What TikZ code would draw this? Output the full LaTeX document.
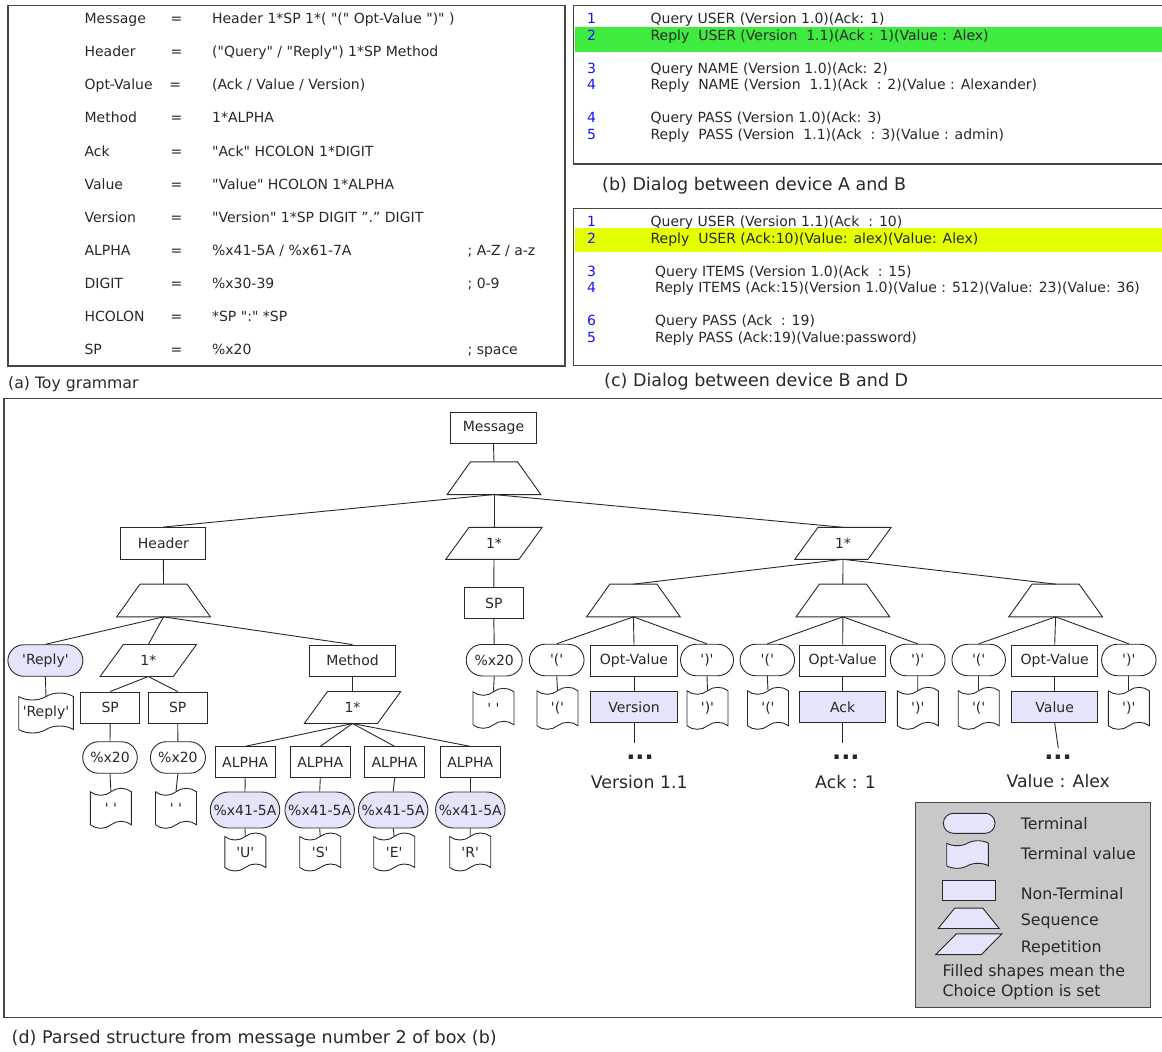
\documentclass[tikz,border=0pt]{standalone}
\usepackage{fontspec}
\setmainfont{DejaVu Sans}
\usetikzlibrary{shapes.geometric,shapes.misc,shapes.symbols}
\definecolor{lav}{RGB}{228,228,250}
\definecolor{lgray}{RGB}{200,200,200}
\definecolor{lgreen}{RGB}{64,235,64}
\definecolor{lyellow}{RGB}{228,255,0}
\definecolor{numblue}{RGB}{20,20,255}
\definecolor{ink}{RGB}{40,40,40}
\definecolor{framec}{RGB}{70,70,70}
\newcommand{\myq}{\textquotesingle}
\newcommand{\dq}{\textquotedbl}
% sequence (trapezium) drawn on an invisible node: #2 node name, #3 slant
\newcommand{\mkseq}[3][]{\draw[draw=ink, line width=0.9pt, #1] ([xshift=#3]#2.north west) -- ([xshift=-#3]#2.north east) -- (#2.south east) -- (#2.south west) -- cycle;}
% repetition (parallelogram)
\newcommand{\mkrep}[3][]{\draw[draw=ink, line width=0.9pt, #1] ([xshift=#3]#2.north west) -- (#2.north east) -- ([xshift=-#3]#2.south east) -- (#2.south west) -- cycle;}
\tikzset{
  base/.style={draw=ink, line width=0.9pt, text=ink, font=\fontsize{14}{16}\selectfont, inner sep=0pt},
  nt/.style={base, rectangle, minimum height=31pt},
  ntf/.style={nt, fill=lav},
  term/.style={base, rounded rectangle, minimum height=31.5pt},
  termf/.style={term, fill=lav},
  tval/.style={base, tape, minimum width=41pt, minimum height=40pt, tape bend height=7pt},
  seqn/.style={rectangle, inner sep=0pt, minimum width=93.3pt, minimum height=32.3pt},
  repn/.style={rectangle, inner sep=0pt, text=ink, font=\fontsize{14}{16}\selectfont, minimum width=96pt, minimum height=31.6pt},
  conn/.style={draw=ink, line width=0.9pt},
  frame/.style={draw=framec, line width=1.1pt},
  gtxt/.style={anchor=west, inner sep=0pt, text=ink, font=\fontsize{14}{16}\selectfont, text height=10.5pt, text depth=3pt},
  gnum/.style={gtxt, text=numblue},
  gcap/.style={anchor=west, inner sep=0pt, text=ink, font=\fontsize{17.5}{20}\selectfont},
  lbl/.style={inner sep=0pt, text=ink, font=\fontsize{17.3}{20}\selectfont},
  dotsn/.style={inner sep=0pt, text=ink, font=\fontsize{24}{24}\selectfont\bfseries},
  ltxt/.style={anchor=west, inner sep=0pt, text=ink, font=\fontsize{15.8}{18}\selectfont},
}
\begin{document}
\begin{tikzpicture}[x=1pt,y=-1pt]
\useasboundingbox (0,0) rectangle (1162,1052);
% ---------------- (a) grammar
\draw[frame] (8,5.5) rectangle (565,366);
\node[gtxt] (ga1) at (84.4,20) {Message};
\node[gtxt] (ga2) at (84.4,53.2) {Header};
\node[gtxt] (ga3) at (84.4,86.2) {Opt-Value};
\node[gtxt] (ga4) at (84.4,119.2) {Method};
\node[gtxt] (ga5) at (84.4,152.4) {Ack};
\node[gtxt] (ga6) at (84.4,185.5) {Value};
\node[gtxt] (ga7) at (84.4,218.8) {Version};
\node[gtxt] (ga8) at (84.4,252) {ALPHA};
\node[gtxt] (ga9) at (84.4,285) {DIGIT};
\node[gtxt] (ga10) at (84.4,318.2) {HCOLON};
\node[gtxt] (ga11) at (84.4,351) {SP};
\node[gtxt,anchor=center] (ge1) at (176.4,20) {=};
\node[gtxt,anchor=center] (ge2) at (176.4,53.2) {=};
\node[gtxt,anchor=center] (ge3) at (175.2,86.2) {=};
\node[gtxt,anchor=center] (ge4) at (176.4,119.2) {=};
\node[gtxt,anchor=center] (ge5) at (176.4,152.4) {=};
\node[gtxt,anchor=center] (ge6) at (176.4,185.5) {=};
\node[gtxt,anchor=center] (ge7) at (176.4,218.8) {=};
\node[gtxt,anchor=center] (ge8) at (176.4,252) {=};
\node[gtxt,anchor=center] (ge9) at (176.4,285) {=};
\node[gtxt,anchor=center] (ge10) at (176.4,318.2) {=};
\node[gtxt,anchor=center] (ge11) at (176.4,351) {=};
\node[gtxt] (gb1) at (211.9,20) {Header 1*SP 1*( \dq(\dq{} Opt-Value \dq)\dq{} )};
\node[gtxt] (gb2) at (211.9,53.2) {(\dq Query\dq{} / \dq Reply\dq) 1*SP Method};
\node[gtxt] (gb3) at (211.9,86.2) {(Ack / Value / Version)};
\node[gtxt] (gb4) at (211.9,119.2) {1*ALPHA};
\node[gtxt] (gb5) at (211.9,152.4) {\dq Ack\dq{} HCOLON 1*DIGIT};
\node[gtxt] (gb6) at (211.9,185.5) {\dq Value\dq{} HCOLON 1*ALPHA};
\node[gtxt] (gb7) at (211.9,218.8) {\dq Version\dq{} 1*SP DIGIT ”.” DIGIT};
\node[gtxt] (gb8) at (211.9,252) {\%x41-5A / \%x61-7A};
\node[gtxt] (gb9) at (211.9,285) {\%x30-39};
\node[gtxt] (gb10) at (211.9,318.2) {*SP \dq:\dq{} *SP};
\node[gtxt] (gb11) at (211.9,351) {\%x20};
\node[gtxt] (gc8) at (467.4,252) {; A-Z / a-z};
\node[gtxt] (gc9) at (467.4,285) {; 0-9};
\node[gtxt] (gc11) at (467.4,351) {; space};
\node[gcap,font=\fontsize{15.7}{18}\selectfont] (capa) at (8,384) {(a) Toy grammar};
% ---------------- (b) dialog
\fill[lgreen] (574.5,27.3) rectangle (1162,51.7);
\draw[frame] (573.8,5.5) rectangle (1163,164);
\node[gnum] (bn1) at (587,20) {1};
\node[gnum] (bn2) at (587,36.7) {2};
\node[gnum] (bn3) at (587,70) {3};
\node[gnum] (bn4) at (587,86) {4};
\node[gnum] (bn5) at (587,119) {4};
\node[gnum] (bn6) at (587,136) {5};
\node[gtxt] (bt1) at (650.4,20) {Query USER (Version 1.0)(Ack: 1)};
\node[gtxt] (bt2) at (650.4,36.7) {Reply\ \ USER (Version\ \ 1.1)(Ack : 1)(Value : Alex)};
\node[gtxt] (bt3) at (650.4,70) {Query NAME (Version 1.0)(Ack: 2)};
\node[gtxt] (bt4) at (650.4,86) {Reply\ \ NAME (Version\ \ 1.1)(Ack\ \ : 2)(Value : Alexander)};
\node[gtxt] (bt5) at (650.4,119) {Query PASS (Version 1.0)(Ack: 3)};
\node[gtxt] (bt6) at (650.4,136) {Reply\ \ PASS (Version\ \ 1.1)(Ack\ \ : 3)(Value : admin)};
\node[gcap] (capb) at (602,185.7) {(b) Dialog between device A and B};
% ---------------- (c) dialog
\fill[lyellow] (574.5,228.3) rectangle (1162,252.3);
\draw[frame] (573.8,208.3) rectangle (1163,365.7);
\node[gnum] (cn1) at (587,222.7) {1};
\node[gnum] (cn2) at (587,240) {2};
\node[gnum] (cn3) at (587,272.7) {3};
\node[gnum] (cn4) at (587,288.7) {4};
\node[gnum] (cn5) at (587,322) {6};
\node[gnum] (cn6) at (587,339) {5};
\node[gtxt] (ct1) at (650.4,222.7) {Query USER (Version 1.1)(Ack\ \ : 10)};
\node[gtxt] (ct2) at (650.4,240) {Reply\ \ USER (Ack:10)(Value: alex)(Value: Alex)};
\node[gtxt] (ct3) at (655,272.7) {Query ITEMS (Version 1.0)(Ack\ \ : 15)};
\node[gtxt] (ct4) at (655,288.7) {Reply ITEMS (Ack:15)(Version 1.0)(Value : 512)(Value: 23)(Value: 36)};
\node[gtxt] (ct5) at (655,322) {Query PASS (Ack\ \ : 19)};
\node[gtxt] (ct6) at (655,339) {Reply PASS (Ack:19)(Value:password)};
\node[gcap] (capc) at (604,381.7) {(c) Dialog between device B and D};
% ---------------- (d) tree
\draw[frame] (4,398.5) rectangle (1163,1017.5);
\node[gcap] (capd) at (11.5,1038.5) {(d) Parsed structure from message number 2 of box (b)};

\node[nt, minimum width=86pt] (msg) at (493.5,428.3) {Message};
\node[seqn] (s0) at (494,478.2) {};
\node[nt, minimum width=85pt, minimum height=32pt] (hdr) at (163.4,543.5) {Header};
\node[repn] (r0) at (494,543.3) {1*};
\node[repn] (r1) at (843,543.3) {1*};
% header subtree
\node[seqn] (sh) at (163.5,600.5) {};
\node[termf, minimum width=75pt] (trep) at (45.4,660.5) {\myq Reply\myq};
\node[tval, minimum width=54.6pt] (vrep) at (46,713) {\myq Reply\myq};
\node[repn] (rh) at (148.3,660.5) {1*};
\node[nt, minimum width=59pt] (sp1) at (110.2,707.5) {SP};
\node[nt, minimum width=59pt] (sp2) at (177.7,707.5) {SP};
\node[term, minimum width=54.6pt] (x1) at (110,757.5) {\%x20};
\node[term, minimum width=55pt] (x2) at (177.9,757.5) {\%x20};
\node[tval] (v1) at (110.9,808.3) {\myq\ \myq};
\node[tval] (v2) at (176,808.3) {\myq\ \myq};
\node[nt, minimum width=86.4pt] (meth) at (352.5,660.5) {Method};
\node[repn] (rm) at (352.5,707.5) {1*};
\node[nt, minimum width=59.6pt] (a1) at (245.2,762.3) {ALPHA};
\node[nt, minimum width=59.6pt] (a2) at (320.3,762.3) {ALPHA};
\node[nt, minimum width=59.6pt] (a3) at (394.6,762.3) {ALPHA};
\node[nt, minimum width=59.6pt] (a4) at (470.3,762.3) {ALPHA};
\node[termf, minimum width=69.5pt, minimum height=36pt] (t1) at (245,810) {\%x41-5A};
\node[termf, minimum width=69.5pt, minimum height=36pt] (t2) at (319.7,810) {\%x41-5A};
\node[termf, minimum width=69.5pt, minimum height=36pt] (t3) at (393.2,810) {\%x41-5A};
\node[termf, minimum width=69.5pt, minimum height=36pt] (t4) at (470.3,810) {\%x41-5A};
\node[tval, minimum height=38pt] (u1) at (245.3,852) {\myq U\myq};
\node[tval, minimum height=38pt] (u2) at (320.2,852) {\myq S\myq};
\node[tval, minimum height=38pt] (u3) at (394.2,852) {\myq E\myq};
\node[tval, minimum height=38pt] (u4) at (470.2,852) {\myq R\myq};
% middle subtree
\node[nt, minimum width=59pt] (sp0) at (493.8,603) {SP};
\node[term, minimum width=56pt] (x0) at (494.2,660.2) {\%x20};
\node[tval] (v0) at (493.5,708.3) {\myq\ \myq};
% right subtree
\node[seqn] (q1) at (633.4,600.5) {};
\node[seqn] (q2) at (842.9,600.5) {};
\node[seqn] (q3) at (1055.6,600.5) {};
\node[term, minimum width=54.7pt] (lp1) at (556.7,660) {\myq(\myq};
\node[nt, minimum width=86.7pt] (ov1) at (634,660.5) {Opt-Value};
\node[term, minimum width=53pt] (rp1) at (707,660) {\myq)\myq};
\node[tval, minimum height=42pt] (lv1) at (557.5,708.3) {\myq(\myq};
\node[ntf, minimum width=86.7pt] (ver) at (634,707.2) {Version};
\node[tval, minimum height=42pt] (rv1) at (707.5,708.3) {\myq)\myq};
\node[term, minimum width=54.5pt] (lp2) at (767.3,660) {\myq(\myq};
\node[nt, minimum width=86.3pt] (ov2) at (842.7,660.5) {Opt-Value};
\node[term, minimum width=54.7pt] (rp2) at (917.7,660) {\myq)\myq};
\node[tval, minimum height=42pt] (lv2) at (768,708.3) {\myq(\myq};
\node[ntf, minimum width=86.3pt] (ack) at (842.7,707.2) {Ack};
\node[tval, minimum height=42pt] (rv2) at (917.8,708.3) {\myq)\myq};
\node[term, minimum width=53.5pt] (lp3) at (978.7,660) {\myq(\myq};
\node[nt, minimum width=86pt] (ov3) at (1054.7,660.5) {Opt-Value};
\node[term, minimum width=54.5pt] (rp3) at (1128.8,660) {\myq)\myq};
\node[tval, minimum height=42pt] (lv3) at (978.7,708.3) {\myq(\myq};
\node[ntf, minimum width=86pt] (val) at (1054.7,707.2) {Value};
\node[tval, minimum height=42pt] (rv3) at (1128.8,708.3) {\myq)\myq};
\coordinate (e1) at (634,743.3);
\coordinate (e2) at (842.7,743.3);
\coordinate (e3) at (1058.3,748.3);
\node[dotsn] (d1) at (640,757) {...};
\node[dotsn] (d2) at (845.9,757) {...};
\node[dotsn] (d3) at (1058,757) {...};
\node[lbl] (l1) at (639.2,781.7) {Version 1.1};
\node[lbl] (l2) at (845.6,781.7) {Ack : 1};
\node[lbl] (l3) at (1058.2,781.3) {Value : Alex};
% sequence / repetition outlines
\mkseq{s0}{23.3pt}
\mkseq{sh}{23.3pt}
\mkseq{q1}{23.3pt}
\mkseq{q2}{23.3pt}
\mkseq{q3}{23.3pt}
\mkrep{r0}{23.2pt}
\mkrep{r1}{23.2pt}
\mkrep{rh}{23.2pt}
\mkrep{rm}{23.2pt}
% connectors
\draw[conn] (msg.south) -- (s0.north);
\draw[conn] (s0.south) -- (hdr.north);
\draw[conn] (s0.south) -- (r0.north);
\draw[conn] (s0.south) -- (r1.north);
\draw[conn] (hdr.south) -- (sh.north);
\draw[conn] (sh.south) -- (trep.north);
\draw[conn] (sh.south) -- (rh.north);
\draw[conn] (sh.south) -- (meth.north);
\draw[conn] (trep.south) -- (vrep.north);
\draw[conn] (rh.south) -- (sp1.north);
\draw[conn] (rh.south) -- (sp2.north);
\draw[conn] (sp1.south) -- (x1.north);
\draw[conn] (sp2.south) -- (x2.north);
\draw[conn] (x1.south) -- (v1.north);
\draw[conn] (x2.south) -- (v2.north);
\draw[conn] (meth.south) -- (rm.north);
\foreach \i in {1,2,3,4}{
  \draw[conn] (rm.south) -- (a\i.north);
  \draw[conn] (a\i.south) -- (t\i.north);
  \draw[conn] (t\i.south) -- (u\i.north);
}
\draw[conn] (r0.south) -- (sp0.north);
\draw[conn] (sp0.south) -- (x0.north);
\draw[conn] (x0.south) -- (v0.north);
\foreach \i in {1,2,3}{
  \draw[conn] (r1.south) -- (q\i.north);
  \draw[conn] (q\i.south) -- (lp\i.north);
  \draw[conn] (q\i.south) -- (ov\i.north);
  \draw[conn] (q\i.south) -- (rp\i.north);
  \draw[conn] (lp\i.south) -- (lv\i.north);
  \draw[conn] (rp\i.south) -- (rv\i.north);
}
\draw[conn] (ov1.south) -- (ver.north);
\draw[conn] (ov2.south) -- (ack.north);
\draw[conn] (ov3.south) -- (val.north);
\draw[conn] (ver.south) -- (e1);
\draw[conn] (ack.south) -- (e2);
\draw[conn] (val.south) -- (e3);
% legend
\node[draw=framec, line width=1pt, fill=lgray, minimum width=235pt, minimum height=204.3pt, inner sep=0pt] (leg) at (1033.2,904.85) {};
\node[termf, minimum width=51.7pt, minimum height=20pt] (lg1) at (969.2,823.3) {};
\node[base, tape, fill=lav, minimum width=41.6pt, minimum height=27.6pt, tape bend height=5pt] (lg2) at (967.5,854.5) {};
\node[ntf, minimum width=52.3pt, minimum height=20pt] (lg3) at (968.8,890) {};
\node[rectangle, inner sep=0pt, minimum width=60.7pt, minimum height=20pt] (lg4) at (968.7,918.3) {};
\node[rectangle, inner sep=0pt, minimum width=65.7pt, minimum height=20.3pt] (lg5) at (968.8,944.2) {};
\mkseq[fill=lav]{lg4}{16.5pt}
\mkrep[fill=lav]{lg5}{20.5pt}
\node[ltxt] (lt1) at (1020.7,823.3) {Terminal};
\node[ltxt] (lt2) at (1020.7,853.3) {Terminal value};
\node[ltxt] (lt3) at (1020.7,893.3) {Non-Terminal};
\node[ltxt] (lt4) at (1020.7,921.7) {Sequence};
\node[ltxt] (lt5) at (1020.7,948.3) {Repetition};
\node[ltxt] (lt6) at (942.3,971.7) {Filled shapes mean the};
\node[ltxt] (lt7) at (942.3,991.7) {Choice Option is set};
\end{tikzpicture}
\end{document}
